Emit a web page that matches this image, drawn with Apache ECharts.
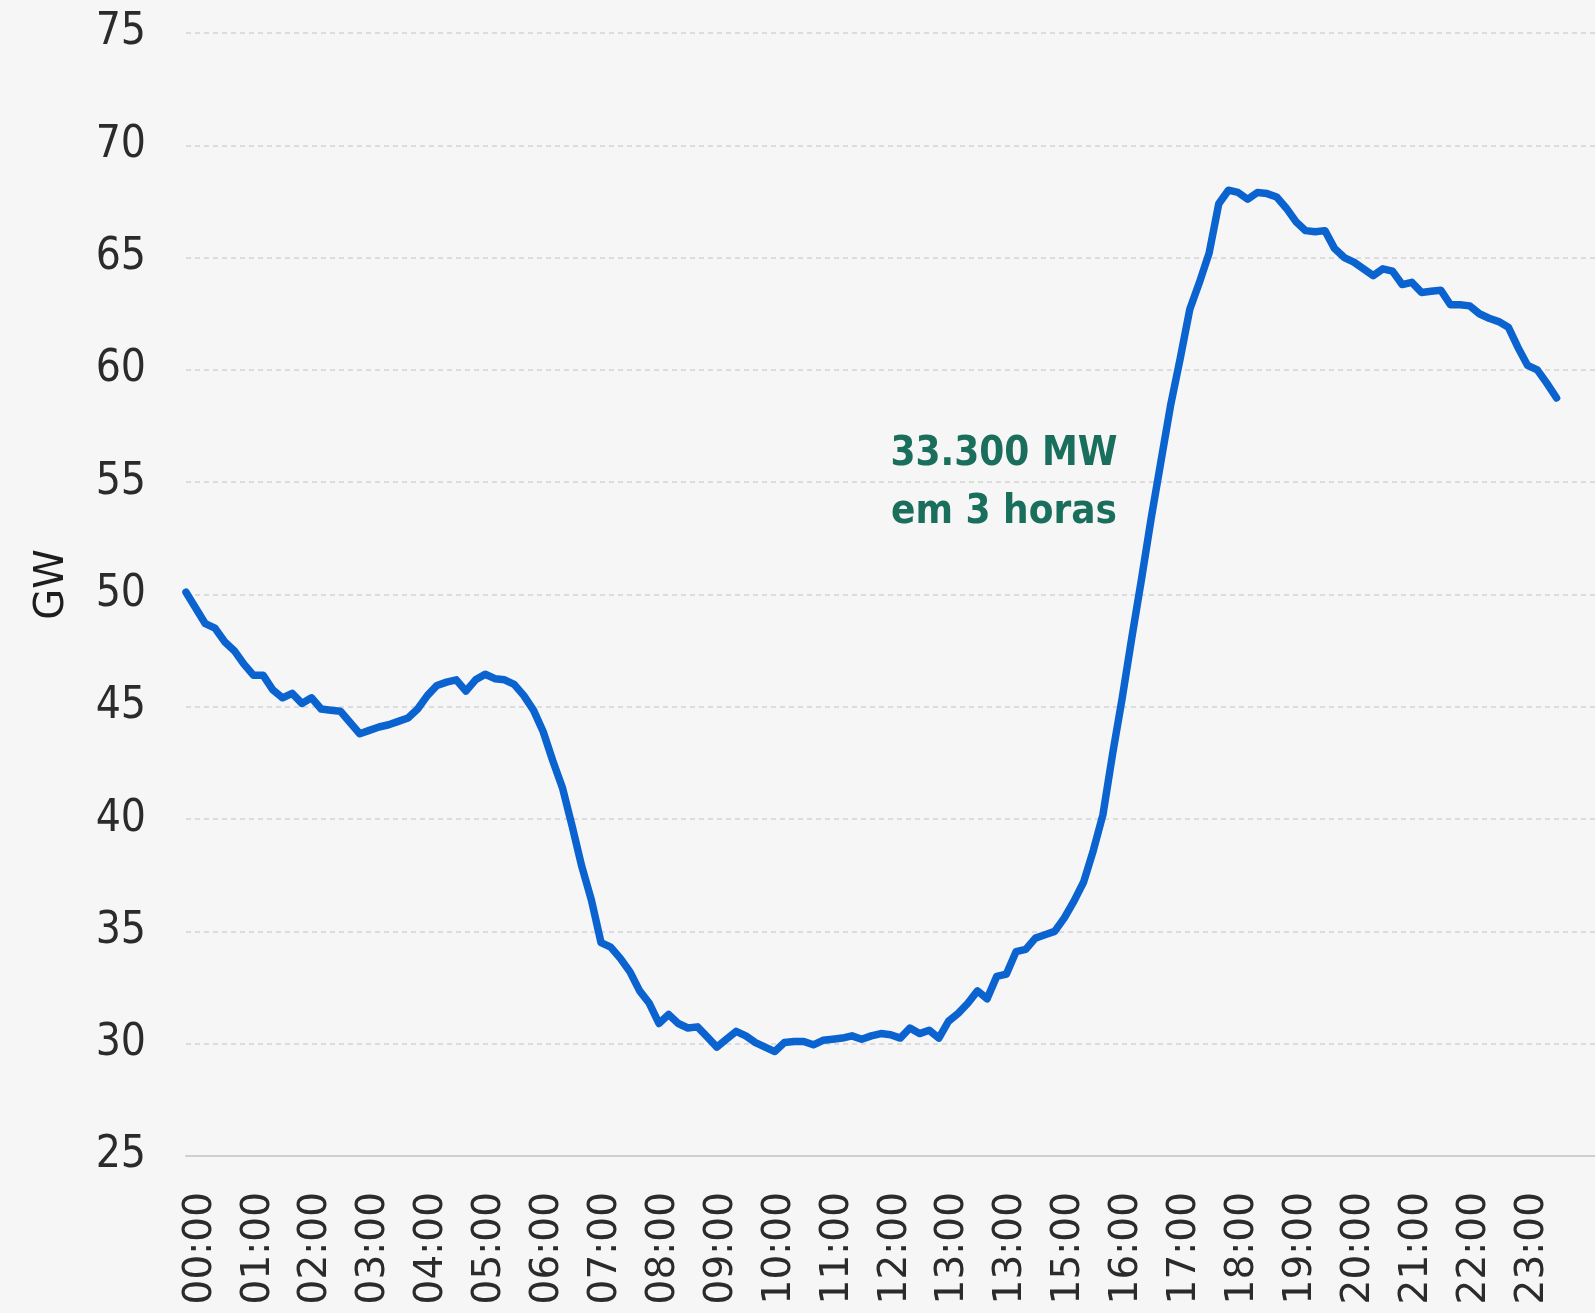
<!DOCTYPE html>
<html>
<head>
<meta charset="utf-8">
<title>Carga GW</title>
<script src="https://cdn.jsdelivr.net/npm/echarts@6/dist/echarts.min.js"></script>
<style>
  html, body { margin: 0; padding: 0; background: #f6f6f6; }
  #chart { width: 1595px; height: 1313px; }
</style>
</head>
<body>
<div id="chart"></div>
<script>
// tick labels as printed on the original (14:00 is labelled 13:00 there)
var hourLabels = ["00:00", "01:00", "02:00", "03:00", "04:00", "05:00", "06:00", "07:00",
    "08:00", "09:00", "10:00", "11:00", "12:00", "13:00", "13:00", "15:00",
    "16:00", "17:00", "18:00", "19:00", "20:00", "21:00", "22:00", "23:00"];

// one reading every 10 minutes, from 00:00
var stepMinutes = 10;

// load in GW
var loadGW = [
    50.1, 49.4, 48.7, 48.5, 47.9, 47.5, 46.9, 46.4, 46.4, 45.75, 45.4, 45.6,   // 00h-01h50
    45.15, 45.4, 44.9, 44.85, 44.8, 44.3, 43.8, 43.95, 44.1, 44.2, 44.35, 44.5, // 02h-03h50
    44.9, 45.5, 45.95, 46.1, 46.2, 45.7, 46.2, 46.45, 46.25, 46.2, 46.0, 45.5, // 04h-05h50
    44.85, 43.9, 42.6, 41.4, 39.7, 37.9, 36.4, 34.5, 34.3, 33.8, 33.2, 32.35,  // 06h-07h50
    31.8, 30.9, 31.3, 30.9, 30.7, 30.75, 30.3, 29.85, 30.2, 30.55, 30.35, 30.05, // 08h-09h50
    29.85, 29.65, 30.05, 30.1, 30.1, 29.95, 30.15, 30.2, 30.25, 30.35, 30.2, 30.35, // 10h-11h50
    30.45, 30.4, 30.25, 30.7, 30.45, 30.6, 30.25, 31.0, 31.35, 31.8, 32.35, 32.0, // 12h-13h50
    33.0, 33.1, 34.1, 34.2, 34.7, 34.85, 35.0, 35.6, 36.35, 37.2, 38.6, 40.2,  // 14h-15h50
    42.9, 45.4, 48.1, 50.7, 53.4, 55.9, 58.4, 60.5, 62.7, 63.9, 65.2, 67.4,    // 16h-17h50
    68.0, 67.9, 67.6, 67.9, 67.85, 67.7, 67.2, 66.6, 66.2, 66.15, 66.2, 65.4,  // 18h-19h50
    65.0, 64.8, 64.5, 64.2, 64.5, 64.4, 63.8, 63.9, 63.45, 63.5, 63.55, 62.9,  // 20h-21h50
    62.9, 62.85, 62.5, 62.3, 62.15, 61.9, 61.0, 60.2, 60.0, 59.4, 58.75        // 22h-23h40
];

var yTicks = { min: 25, max: 75, step: 5 };

var note = "33.300 MW\nem 3 horas";

// x range in hours; the labels sit a quarter hour right of their hour on the original
var xMax = 24.33;
var labelShift = 0.25;

// [hour, GW] pairs for the value x axis
var points = loadGW.map(function (v, i) {
    return [i * stepMinutes / 60, v];
});

function hourLabel(v) {
    var k = Math.round(v);
    if (Math.abs(v - k) > 1e-6 || k < 0 || k >= hourLabels.length) return "";
    return hourLabels[k];
}

var chart = echarts.init(document.getElementById("chart"));

chart.setOption({
    backgroundColor: "#f6f6f6",
    animation: false,
    grid: { left: 186, right: 0, top: 33, bottom: 157 },
    xAxis: [{
        // data axis
        type: "value",
        position: "bottom",
        min: 0,
        max: xMax,
        axisLine: { show: false },
        axisTick: { show: false },
        axisLabel: { show: false },
        splitLine: { show: false }
    }, {
        // label axis, ticks every quarter hour so min stays on the grid
        type: "value",
        position: "bottom",
        min: -labelShift,
        max: xMax - labelShift,
        interval: 0.25,
        axisLine: { show: true, lineStyle: { color: "#cfcfcf", width: 2 } },
        axisTick: { show: false },
        splitLine: { show: false },
        axisLabel: {
            rotate: 90,
            margin: 36,
            color: "#2b2b2b",
            fontFamily: "DejaVu Sans",
            fontSize: 39,
            formatter: hourLabel
        }
    }],
    yAxis: {
        type: "value",
        min: yTicks.min,
        max: yTicks.max,
        interval: yTicks.step,
        name: "GW",
        nameLocation: "middle",
        nameRotate: 90,
        nameGap: 113,
        nameTextStyle: { color: "#1e1e1e", fontFamily: "DejaVu Sans", fontSize: 40, padding: [0, 0, 0, 20] },
        axisLine: { show: false },
        axisTick: { show: false },
        axisLabel: {
            margin: 40,
            color: "#2b2b2b",
            fontFamily: "'Liberation Sans Narrow', 'DejaVu Sans Condensed', sans-serif",
            fontSize: 44
        },
        splitLine: { lineStyle: { color: "#d4d4d4", width: 1.5, type: [5, 4] } }
    },
    series: [{
        type: "line",
        xAxisIndex: 0,
        data: points,
        showSymbol: false,
        lineStyle: { color: "#0b63cf", width: 7.5, join: "round", cap: "round" },
        z: 3
    }],
    graphic: [{
        type: "text",
        x: 1004,
        y: 484,
        style: {
            text: note,
            align: "center",
            verticalAlign: "middle",
            fill: "#1a6e5c",
            font: "bold 40px 'Liberation Sans Narrow', 'DejaVu Sans Condensed', sans-serif",
            lineHeight: 58
        }
    }]
});
</script>
</body>
</html>
